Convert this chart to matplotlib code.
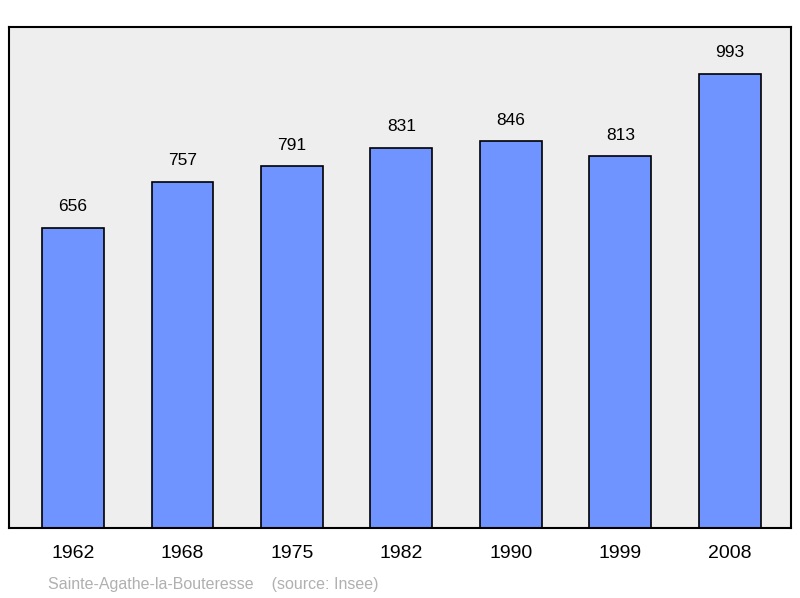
import matplotlib
matplotlib.use("Agg")
from matplotlib import pyplot as plt

# Population figures
years = ["1962", "1968", "1975", "1982", "1990", "1999", "2008"]
population = [656, 757, 791, 831, 846, 813, 993]

plt.rcParams["font.family"] = ["Liberation Sans", "DejaVu Sans"]

W, H = 800, 598
fig = plt.figure(figsize=(W / 100, H / 100), dpi=100)
ax = fig.add_axes([9 / W, 1 - 528 / H, (791 - 9) / W, (528 - 27) / H])
ax.set_facecolor("#eeeeee")

x = range(len(years))
ax.bar(x, population, width=0.566, color="#7094ff", edgecolor="black", linewidth=1.2)
for xi, v in zip(x, population):
    ax.text(xi, v + 30, str(v), ha="center", va="bottom", fontsize=12.5)

ax.set_xlim(-0.585, len(years) - 1 + 0.56)
ax.set_ylim(0, 1096)
ax.set_xticks(list(x))
ax.set_xticklabels(years, fontsize=14)
ax.tick_params(axis="x", length=0, pad=12)
ax.set_yticks([])
for s in ax.spines.values():
    s.set_linewidth(1.5)

fig.text(48 / W, 1 - 584 / H, "Sainte-Agathe-la-Bouteresse    (source: Insee)",
         color="#b0b0b0", fontsize=11.5, va="center")

fig.savefig("out.png", dpi=100)
